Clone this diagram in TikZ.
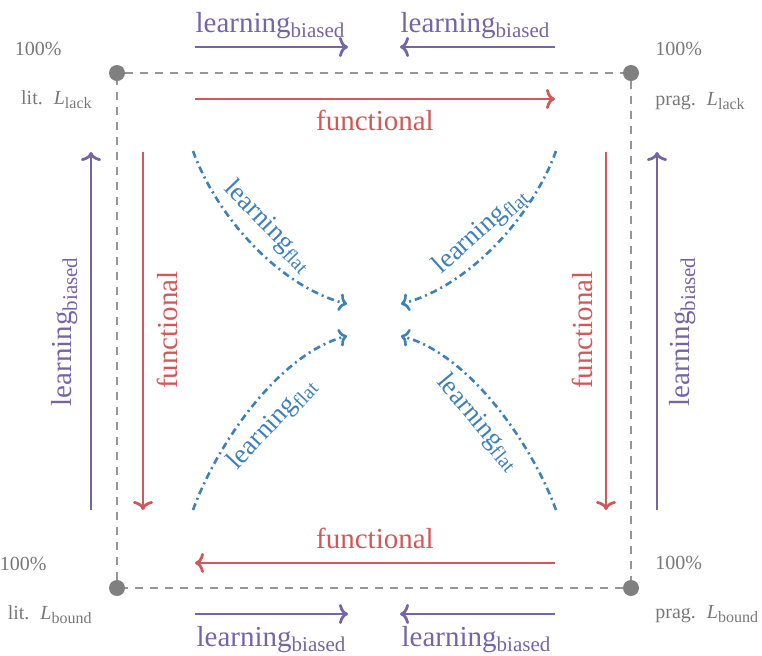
\documentclass[tikz,border=0pt]{standalone}
\usepackage{fontspec}
\setmainfont{Liberation Serif}
\usetikzlibrary{arrows.meta}
\definecolor{cpurple}{RGB}{118,101,163}
\definecolor{cred}{RGB}{209,88,90}
\definecolor{cblue}{RGB}{62,128,185}
\definecolor{cdot}{RGB}{128,128,128}
\definecolor{cdash}{RGB}{150,150,150}
\definecolor{ctext}{RGB}{120,120,120}
\newcommand{\lsub}[1]{\raisebox{-2.6pt}{\fontsize{10.5}{12}\selectfont #1}}
\newcommand{\fsub}[1]{\raisebox{-2.4pt}{\fontsize{10}{12}\selectfont #1}}
\newcommand{\csub}[1]{\raisebox{-2pt}{\fontsize{8}{10}\selectfont #1}}
\begin{document}
\begin{tikzpicture}[x=0.5pt,y=-0.5pt,
  biasarrow/.style={draw=cpurple, line width=1.4pt, -{To[length=4.5pt,width=10pt]}},
  funcarrow/.style={draw=cred, line width=1.4pt, -{To[length=4.5pt,width=10pt]}},
  flatarrow/.style={draw=cblue, line width=1.3pt, dash pattern=on 3.5pt off 2pt on 1pt off 2pt, -{To[length=4pt,width=9pt]}},
  biaslabel/.style={text=cpurple, font=\fontsize{14.5}{16}\selectfont, inner sep=0pt},
  funclabel/.style={text=cred, font=\fontsize{14.5}{16}\selectfont, inner sep=0pt},
  flatlabel/.style={text=cblue, font=\fontsize{13.5}{16}\selectfont, inner sep=0pt},
  cornerlabel/.style={text=ctext, font=\fontsize{10}{12}\selectfont, inner sep=0pt},
  corner/.style={circle, fill=cdot, minimum size=8pt, inner sep=0pt},
  frame/.style={draw=cdash, line width=0.75pt, dash pattern=on 4pt off 3.5pt}
]
\useasboundingbox (0,0) rectangle (762,655);

% corners
\node[corner] (tl) at (117,73) {};
\node[corner] (tr) at (631,73) {};
\node[corner] (bl) at (117,588) {};
\node[corner] (br) at (631,588) {};
\draw[frame] (tl) -- (tr) -- (br) -- (bl) -- (tl);

% corner labels
\node[cornerlabel, anchor=east] (tlp) at (62,49) {100\%};
\node[cornerlabel, anchor=east] (tln) at (92,100) {lit.\hspace{0.55em}\textit{L}\csub{lack}};
\node[cornerlabel, anchor=west] (trp) at (655,49) {100\%};
\node[cornerlabel, anchor=west] (trn) at (655,101) {prag.\hspace{0.55em}\textit{L}\csub{lack}};
\node[cornerlabel, anchor=east] (blp) at (47,564) {100\%};
\node[cornerlabel, anchor=east] (bln) at (92,615) {lit.\hspace{0.55em}\textit{L}\csub{bound}};
\node[cornerlabel, anchor=west] (brp) at (655,563) {100\%};
\node[cornerlabel, anchor=west] (brn) at (655,614) {prag.\hspace{0.55em}\textit{L}\csub{bound}};

% arrow end coordinates
\coordinate (t1a) at (195,47);  \coordinate (t1b) at (348,47);
\coordinate (t2a) at (555,47);  \coordinate (t2b) at (400,47);
\coordinate (b1a) at (195,614); \coordinate (b1b) at (348,614);
\coordinate (b2a) at (555,614); \coordinate (b2b) at (400,614);
\coordinate (tfa) at (195,99);  \coordinate (tfb) at (555,99);
\coordinate (bfa) at (555,563); \coordinate (bfb) at (195,563);
\coordinate (lba) at (91,510);  \coordinate (lbb) at (91,152);
\coordinate (lfa) at (143,152); \coordinate (lfb) at (143,510);
\coordinate (rfa) at (606,152); \coordinate (rfb) at (606,510);
\coordinate (rba) at (657,510); \coordinate (rbb) at (657,152);

% purple arrows
\draw[biasarrow] (t1a) -- (t1b);
\draw[biasarrow] (t2a) -- (t2b);
\draw[biasarrow] (b1a) -- (b1b);
\draw[biasarrow] (b2a) -- (b2b);
\draw[biasarrow] (lba) -- (lbb);
\draw[biasarrow] (rba) -- (rbb);
% red arrows
\draw[funcarrow] (tfa) -- (tfb);
\draw[funcarrow] (bfa) -- (bfb);
\draw[funcarrow] (lfa) -- (lfb);
\draw[funcarrow] (rfa) -- (rfb);

% labels
\node[biaslabel, anchor=base] (lt1) at (270,32) {learning\lsub{biased}};
\node[biaslabel, anchor=base] (lt2) at (475,32) {learning\lsub{biased}};
\node[biaslabel, anchor=base] (lb1) at (271,646) {learning\lsub{biased}};
\node[biaslabel, anchor=base] (lb2) at (476,646) {learning\lsub{biased}};
\node[biaslabel, rotate=90] (ll) at (65,332) {learning\lsub{biased}};
\node[biaslabel, rotate=90] (lr) at (683,332) {learning\lsub{biased}};
\node[funclabel, anchor=base] (ft) at (375,130) {functional};
\node[funclabel, anchor=base] (fb) at (375,548) {functional};
\node[funclabel, rotate=90] (fl) at (167,330) {functional};
\node[funclabel, rotate=90] (fr) at (582,330) {functional};

% blue curves
\coordinate (c1a) at (193,151); \coordinate (c1b) at (347,304);
\coordinate (c2a) at (193,510); \coordinate (c2b) at (347,336);
\coordinate (c3a) at (556,151); \coordinate (c3b) at (401,304);
\coordinate (c4a) at (556,510); \coordinate (c4b) at (401,336);
\draw[flatarrow] (c1a) .. controls (217,217) and (279,286) .. (c1b);
\draw[flatarrow] (c2a) .. controls (217,444) and (279,354) .. (c2b);
\draw[flatarrow] (c3a) .. controls (532,217) and (469,286) .. (c3b);
\draw[flatarrow] (c4a) .. controls (532,444) and (469,354) .. (c4b);
\node[flatlabel, rotate=-46] (fl1) at (268,226) {learning\fsub{flat}};
\node[flatlabel, rotate=47] (fl2) at (272,424) {learning\fsub{flat}};
\node[flatlabel, rotate=42] (fl3) at (480,231) {learning\fsub{flat}};
\node[flatlabel, rotate=-50] (fl4) at (478,422) {learning\fsub{flat}};
\end{tikzpicture}
\end{document}
